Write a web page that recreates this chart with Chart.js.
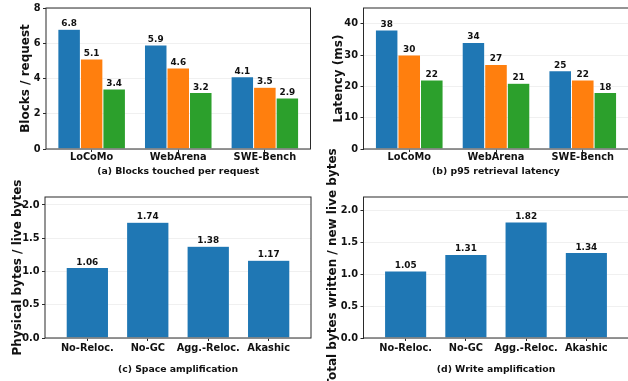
<!DOCTYPE html>
<html>
<head>
<meta charset="utf-8">
<script src="https://cdn.jsdelivr.net/npm/chart.js@4.4.1/dist/chart.umd.min.js"></script>
<style>
  html, body { margin: 0; padding: 0; background: #fff; overflow: hidden; width: 628px; height: 381px; }
  .figure { position: relative; width: 628px; height: 381px; overflow: hidden; }
  .figure canvas { position: absolute; left: 0; top: 0; }
</style>
</head>
<body>
<div class="figure">
  <canvas id="panelA" width="640" height="381"></canvas>
  <canvas id="panelB" width="640" height="381"></canvas>
  <canvas id="panelC" width="640" height="381"></canvas>
  <canvas id="panelD" width="640" height="381"></canvas>
</div>
<script>
// ---- data ----
const workloads = ['LoCoMo', 'WebArena', 'SWE-Bench'];
const blocksSeries1 = [6.8, 5.9, 4.1];
const blocksSeries2 = [5.1, 4.6, 3.5];
const blocksSeries3 = [3.4, 3.2, 2.9];
const latencySeries1 = [38, 34, 25];
const latencySeries2 = [30, 27, 22];
const latencySeries3 = [22, 21, 18];

const policies = ['No-Reloc.', 'No-GC', 'Agg.-Reloc.', 'Akashic'];
const spaceAmplification = [1.06, 1.74, 1.38, 1.17];
const writeAmplification = [1.05, 1.31, 1.82, 1.34];

const blocksTicks = [0, 2, 4, 6, 8];
const latencyTicks = [0, 10, 20, 30, 40];
const amplificationTicks = [0, 0.5, 1.0, 1.5, 2.0];

// ---- styling ----
const FONT = '"DejaVu Sans", "Liberation Sans", sans-serif';
const BLUE = '#1f77b4', ORANGE = '#ff7f0e', GREEN = '#2ca02c';
const INK = '#111111';
const CANVAS_W = 640, CANVAS_H = 381;
const Y_TITLE = { size: 12.0, lineHeight: 1.2 };
const X_TITLE = { size: 9.3, lineHeight: 1.2 };
const TICK = { size: 9.8, lineHeight: 0.9 };
const TICK_LEN = 3;
const VALUE_SIZE = 8.9;

// value printed above every bar
const valueLabels = {
  id: 'valueLabels',
  afterDatasetsDraw(chart, args, opts) {
    const ctx = chart.ctx;
    ctx.save();
    ctx.font = 'bold ' + VALUE_SIZE + 'px ' + FONT;
    ctx.fillStyle = INK;
    ctx.textAlign = 'center';
    ctx.textBaseline = 'alphabetic';
    chart.data.datasets.forEach((ds, di) => {
      chart.getDatasetMeta(di).data.forEach((bar, i) => {
        ctx.fillText(ds.data[i].y.toFixed(opts.decimals), bar.x, bar.y - 3);
      });
    });
    ctx.restore();
  }
};

// box around the plotting area
const frame = {
  id: 'frame',
  afterDatasetsDraw(chart) {
    const { ctx, chartArea: a } = chart;
    ctx.save();
    ctx.strokeStyle = '#2a2a2a';
    ctx.lineWidth = 1;
    ctx.strokeRect(a.left, a.top, a.right - a.left, a.bottom - a.top);
    ctx.restore();
  }
};

function panel(id, cfg) {
  const yTitleHalf = Y_TITLE.size * Y_TITLE.lineHeight / 2;
  const xTitleHalf = X_TITLE.size * X_TITLE.lineHeight / 2;
  const padLeft = cfg.yTitleX - yTitleHalf;
  const padBottom = CANVAS_H - cfg.xTitleY - xTitleHalf;

  const datasets = cfg.series.map(s => ({
    label: s.name,
    data: s.values.map((v, i) => ({ x: i, y: v })),
    backgroundColor: s.color,
    borderColor: 'rgba(255,255,255,0.3)',
    borderWidth: 0.5,
    categoryPercentage: cfg.groupWidth,
    barPercentage: 1.0
  }));

  return new Chart(document.getElementById(id), {
    type: 'bar',
    data: { datasets },
    options: {
      responsive: false,
      animation: false,
      devicePixelRatio: 1,
      events: [],
      layout: {
        padding: {
          left: padLeft,
          top: cfg.area.top,
          right: CANVAS_W - cfg.area.right,
          bottom: padBottom
        }
      },
      plugins: {
        legend: { display: false },
        tooltip: { enabled: false },
        valueLabels: { decimals: cfg.decimals }
      },
      scales: {
        x: {
          type: 'linear',
          offset: false,
          min: cfg.xRange[0],
          max: cfg.xRange[1],
          afterBuildTicks: s => { s.ticks = cfg.labels.map((_, i) => ({ value: i })); },
          afterFit: s => { s.height = cfg.xTitleY + xTitleHalf - cfg.area.bottom; },
          grid: { display: true, drawOnChartArea: false, drawTicks: true, tickLength: TICK_LEN, tickColor: '#2a2a2a', tickWidth: 1, offset: false },
          border: { display: false },
          ticks: {
            autoSkip: false, maxRotation: 0, minRotation: 0,
            padding: cfg.xTickPad,
            color: INK,
            font: { family: FONT, weight: 'bold', size: TICK.size, lineHeight: TICK.lineHeight },
            callback: v => cfg.labels[v]
          },
          title: {
            display: true, text: cfg.xTitle, color: INK,
            padding: { top: 0, bottom: 0 },
            font: { family: FONT, weight: 'bold', size: X_TITLE.size, lineHeight: X_TITLE.lineHeight }
          }
        },
        y: {
          min: 0,
          max: cfg.yMax,
          afterBuildTicks: s => { s.ticks = cfg.yTicks.map(v => ({ value: v })); },
          afterFit: s => { s.width = cfg.area.left - padLeft; },
          grid: { color: '#ececec', lineWidth: 0.8, drawTicks: true, tickLength: TICK_LEN, tickColor: '#2a2a2a', tickWidth: 1 },
          border: { display: false },
          ticks: {
            padding: 2.5,
            color: INK,
            font: { family: FONT, weight: 'bold', size: TICK.size, lineHeight: TICK.lineHeight },
            callback: v => Number(v).toFixed(cfg.tickDecimals)
          },
          title: {
            display: true, text: cfg.yTitle, color: INK,
            padding: { top: 0, bottom: 0 },
            font: { family: FONT, weight: 'bold', size: Y_TITLE.size, lineHeight: Y_TITLE.lineHeight }
          }
        }
      }
    },
    plugins: [valueLabels, frame]
  });
}

panel('panelA', {
  labels: workloads,
  series: [
    { name: 'Series 1', values: blocksSeries1, color: BLUE },
    { name: 'Series 2', values: blocksSeries2, color: ORANGE },
    { name: 'Series 3', values: blocksSeries3, color: GREEN }
  ],
  yTicks: blocksTicks, yMax: 8, tickDecimals: 0, decimals: 1,
  xRange: [-0.527, 2.527], groupWidth: 0.78,
  yTitle: 'Blocks / request', xTitle: '(a) Blocks touched per request',
  area: { left: 46, top: 8, right: 310.5, bottom: 149 },
  yTitleX: 25.7, xTickPad: 1.2, xTitleY: 171.5
});

panel('panelB', {
  labels: workloads,
  series: [
    { name: 'Series 1', values: latencySeries1, color: BLUE },
    { name: 'Series 2', values: latencySeries2, color: ORANGE },
    { name: 'Series 3', values: latencySeries3, color: GREEN }
  ],
  yTicks: latencyTicks, yMax: 45, tickDecimals: 0, decimals: 0,
  xRange: [-0.527, 2.527], groupWidth: 0.78,
  yTitle: 'Latency (ms)', xTitle: '(b) p95 retrieval latency',
  area: { left: 363.5, top: 8, right: 628.5, bottom: 149 },
  yTitleX: 339, xTickPad: 1.2, xTitleY: 171.5
});

panel('panelC', {
  labels: policies,
  series: [{ name: 'Space amplification', values: spaceAmplification, color: BLUE }],
  yTicks: amplificationTicks, yMax: 2.12, tickDecimals: 1, decimals: 2,
  xRange: [-0.7, 3.7], groupWidth: 0.7,
  yTitle: 'Physical bytes / live bytes', xTitle: '(c) Space amplification',
  area: { left: 45, top: 197, right: 311, bottom: 338 },
  yTitleX: 17.5, xTickPad: 2.9, xTitleY: 370
});

panel('panelD', {
  labels: policies,
  series: [{ name: 'Write amplification', values: writeAmplification, color: BLUE }],
  yTicks: amplificationTicks, yMax: 2.21, tickDecimals: 1, decimals: 2,
  xRange: [-0.7, 3.7], groupWidth: 0.7,
  yTitle: 'Total bytes written / new live bytes', xTitle: '(d) Write amplification',
  area: { left: 363.5, top: 197, right: 628.5, bottom: 338 },
  yTitleX: 332.5, xTickPad: 2.9, xTitleY: 370
});
</script>
</body>
</html>
